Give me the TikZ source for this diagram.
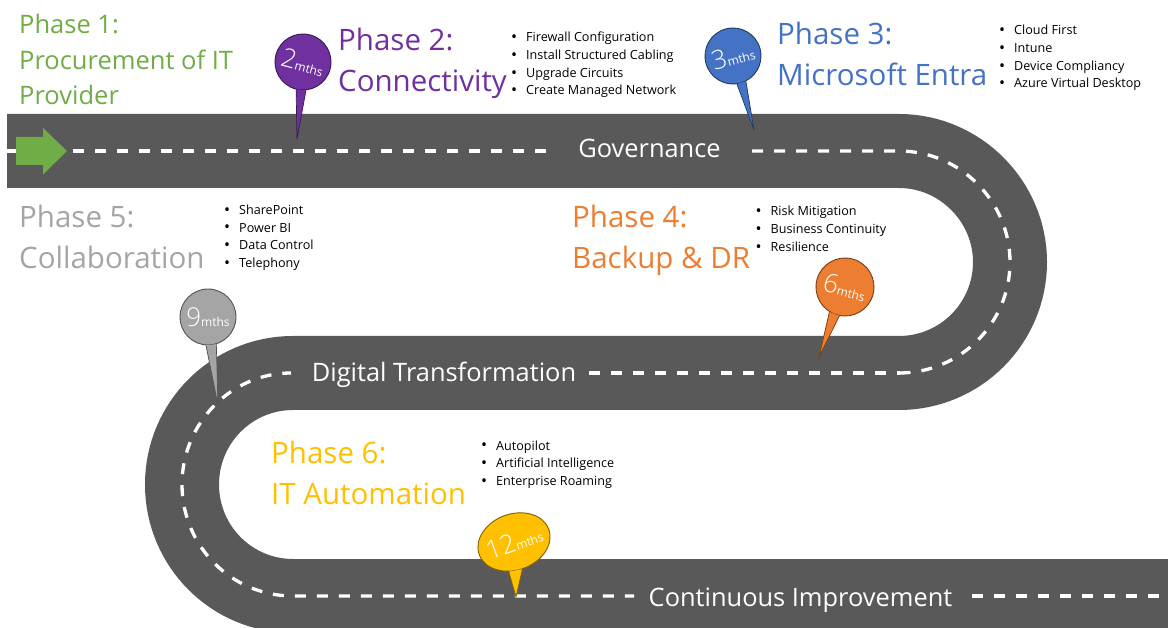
\documentclass[tikz,border=0pt]{standalone}
\usepackage{fontspec}
\setmainfont{Open Sans}
\newfontfamily\pinfont{Open Sans Light}
\usetikzlibrary{shapes.geometric,calc}
\definecolor{road}{HTML}{595959}
\definecolor{cgreen}{HTML}{70AD47}
\definecolor{cpurple}{HTML}{7030A0}
\definecolor{cblue}{HTML}{4472C4}
\definecolor{corange}{HTML}{ED7D31}
\definecolor{cgray}{HTML}{A5A5A5}
\definecolor{cyellow}{HTML}{FFC000}
\newcommand{\pintext}[2]{\makebox[30pt][c]{{\pinfont\fontsize{26}{26}\selectfont #1}{\fontsize{12}{14}\selectfont #2}}}
\newcommand{\phasetext}[3]{\fontsize{#1}{41}\selectfont\begin{tabular}[t]{@{}l@{}}#2\\#3\end{tabular}}
\newcommand{\bulletlist}[1]{\fontsize{12.6}{17.6}\selectfont\begin{tabular}[t]{@{}l@{}}#1\end{tabular}}
\newcommand{\itm}{\makebox[15pt][l]{\raisebox{-0.9pt}{\fontsize{16}{17.6}\selectfont\textbullet}}}
\tikzset{
  roadbed/.style={draw=road,line width=74pt},
  lane/.style={draw=white,line width=3.3pt,dash pattern=on 11pt off 11pt},
  phase/.style={anchor=base west,inner sep=0pt},
  items/.style={anchor=base west,inner sep=0pt,text=black},
  roadlabel/.style={anchor=base,inner sep=0pt,text=white,font=\fontsize{25.4}{26}\selectfont},
  pin/.style={circle,minimum size=56pt,inner sep=0pt,text=white,line width=0.9pt},
  pinoval/.style={ellipse,minimum width=74pt,minimum height=56pt,inner sep=0pt,text=white,line width=0.9pt},
  tail/.style={line width=0.7pt,line join=miter},
}
\begin{document}
\begin{tikzpicture}[x=1pt,y=-1pt]
\clip (0,0) rectangle (1168,628);
\fill[white] (0,0) rectangle (1168,628);
% road
\coordinate (rs) at (7,151);
\coordinate (r1) at (899,151);
\coordinate (r2) at (899,373);
\coordinate (r3) at (293,373);
\coordinate (r4) at (293,596);
\coordinate (re) at (1168,596);
\draw[roadbed] (rs) -- (r1) .. controls (960.3,151) and (1010,201.7) .. (1010,262)
  .. controls (1010,323.3) and (960.3,373) .. (r2) -- (r3)
  .. controls (231.7,373) and (182,422.7) .. (182,484.5)
  .. controls (182,546.3) and (231.7,596) .. (r4) -- (re);
% lane markings
\draw[draw=white,line width=3.3pt] (rs) -- (16,151);
\draw[lane] (73,151) -- (546,151);
\draw[lane] (752,151) -- (r1) .. controls (960.3,151) and (1010,201.7) .. (1010,262)
  .. controls (1010,323.3) and (960.3,373) .. (r2);
\draw[lane,dash phase=8pt] (900,373) -- (589,373);
\draw[lane,dash phase=2.3pt] (291,373) .. controls (231.7,373) and (182,422.7) .. (182,484.5)
  .. controls (182,546.3) and (231.7,596) .. (r4) -- (634,596);
\draw[lane] (972,596) -- (re);
% start arrow
\fill[cgreen] (16,137) -- (43,137) -- (43,128) -- (67,151) -- (43,174.5) -- (43,165) -- (16,165) -- cycle;
% road labels
\node[roadlabel] (gov) at (649.5,158) {Governance};
\node[roadlabel] (dig) at (444,382) {Digital Transformation};
\node[roadlabel] (con) at (800.5,606) {Continuous Improvement};
% phase headings
\node[phase,text=cgreen] (ph1) at (19,34) {\fontsize{25.5}{35.5}\selectfont\begin{tabular}[t]{@{}l@{}}Phase 1:\\Procurement of IT\\Provider\end{tabular}};
\node[phase,text=cpurple] (ph2) at (338,51) {\phasetext{29.5}{Phase 2:}{Connectivity}};
\node[phase,text=cblue] (ph3) at (777,45) {\phasetext{29.5}{Phase 3:}{Microsoft Entra}};
\node[phase,text=corange] (ph4) at (572,228) {\phasetext{29.5}{Phase 4:}{Backup \& DR}};
\node[phase,text=cgray] (ph5) at (19,228) {\phasetext{29.5}{Phase 5:}{Collaboration}};
\node[phase,text=cyellow] (ph6) at (271,463) {\phasetext{29.5}{Phase 6:}{IT Automation}};
% bullet lists
\node[items] (l2) at (511,42) {\bulletlist{\itm Firewall Configuration\\ \itm Install Structured  Cabling\\ \itm Upgrade Circuits\\ \itm Create Managed Network}};
\node[items] (l3) at (999,35) {\bulletlist{\itm Cloud First\\ \itm Intune\\ \itm Device Compliancy\\ \itm Azure Virtual Desktop}};
\node[items] (l4) at (755.5,216) {\bulletlist{\itm Risk Mitigation\\ \itm Business Continuity\\ \itm Resilience}};
\node[items] (l5) at (224,214.5) {\bulletlist{\itm SharePoint\\ \itm Power BI\\ \itm Data Control\\ \itm Telephony}};
\node[items] (l6) at (481,450) {\bulletlist{\itm Autopilot\\ \itm Artificial Intelligence\\ \itm Enterprise Roaming}};
% pins
\coordinate (t2) at (297,139);
\node[pin,fill=cpurple,draw=cpurple!50!black,rotate=-15] (p2) at (303,62) {\pintext{2}{mths}};
\draw[tail,fill=cpurple,draw=cpurple!50!black] (p2.271) -- (t2) -- (p2.291);
\coordinate (t3) at (754,130);
\node[pin,fill=cblue,draw=cblue!50!black,rotate=15] (p3) at (733,56) {\pintext{3}{mths}};
\draw[tail,fill=cblue,draw=cblue!50!black] (p3.263) -- (t3) -- (p3.282);
\coordinate (t6) at (819,357);
\node[pin,minimum size=58pt,fill=corange,draw=corange!50!black,rotate=-15] (p6) at (845,287) {\pintext{6}{mths}};
\draw[tail,fill=corange,draw=corange!50!black] (p6.253) -- (t6) -- (p6.274);
\coordinate (t9) at (218,405);
\node[pin,fill=cgray,draw=cgray!50!black] (p9) at (208,317) {\pintext{9}{mths}};
\draw[tail,fill=cgray,draw=cgray!50!black] (p9.266) -- (t9) -- (p9.287);
\coordinate (t12) at (516,597);
\node[pinoval,fill=cyellow,draw=cyellow!50!black,rotate=20] (p12) at (514,542) {\pintext{12}{mths}};
\draw[tail,fill=cyellow,draw=cyellow!50!black] (p12.240) -- (t12) -- (p12.267);
\end{tikzpicture}
\end{document}
